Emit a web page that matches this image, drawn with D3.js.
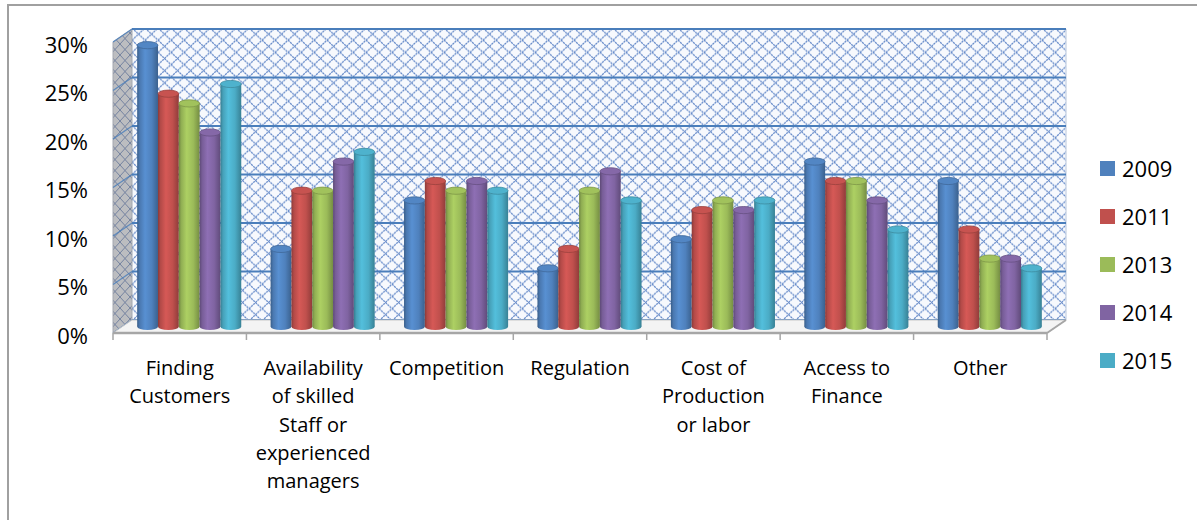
<!DOCTYPE html>
<html>
<head>
<meta charset="utf-8">
<script src="https://cdn.jsdelivr.net/npm/d3@7"></script>
<style>
  html, body { margin: 0; padding: 0; background: #ffffff; }
  svg { display: block; font-family: "Open Sans", "Noto Sans", sans-serif; }
</style>
</head>
<body>
<svg id="chart" width="1197" height="520"></svg>
<script>
// Obstacles reported by businesses, share of respondents per survey year
const categories = [
  "Finding\nCustomers",
  "Availability\nof skilled\nStaff or\nexperienced\nmanagers",
  "Competition",
  "Regulation",
  "Cost of\nProduction\nor labor",
  "Access to\nFinance",
  "Other"
];
const seriesNames = ["2009", "2011", "2013", "2014", "2015"];
const seriesColors = ["#4f81bd", "#c0504d", "#9bbb59", "#8064a2", "#4bacc6"];
const values2009 = [0.29, 0.08, 0.13, 0.06, 0.09, 0.17, 0.15];
const values2011 = [0.24, 0.14, 0.15, 0.08, 0.12, 0.15, 0.10];
const values2013 = [0.23, 0.14, 0.14, 0.14, 0.13, 0.15, 0.07];
const values2014 = [0.20, 0.17, 0.15, 0.16, 0.12, 0.13, 0.07];
const values2015 = [0.25, 0.18, 0.14, 0.13, 0.13, 0.10, 0.06];
const yTicks = [0, 0.05, 0.10, 0.15, 0.20, 0.25, 0.30];

const seriesValues = [values2009, values2011, values2013, values2014, values2015];

const svg = d3.select("#chart");
const defs = svg.append("defs");

// plot geometry: front floor edge, and depth offset to the back wall
const frontLeft = 113, frontRight = 1047;
const depthX = 19, depthY = -13;
const midX = depthX / 2, midY = depthY / 2;

const y = d3.scaleLinear().domain([0, 0.30]).range([333, 42]);
const x = d3.scaleBand().domain(categories).range([frontLeft, frontRight])
  .paddingInner(0.22).paddingOuter(0.11);
const xSeries = d3.scaleBand().domain(seriesNames).range([0, x.bandwidth()]).padding(0);
const xEdge = d3.scaleLinear().domain([0, categories.length]).range([frontLeft, frontRight]);

// outer chart-area frame
svg.append("rect")
  .attr("x", 8).attr("y", 5).attr("width", 1300).attr("height", 700)
  .attr("fill", "none").attr("stroke", "#a0a0a0").attr("stroke-width", 2);

// hatch patterns for the walls
const backHatch = defs.append("pattern")
  .attr("id", "backHatch").attr("patternUnits", "userSpaceOnUse")
  .attr("width", 13).attr("height", 12.2).attr("x", 132).attr("y", 28);
backHatch.append("rect").attr("width", 13).attr("height", 12.2).attr("fill", "#f7f9fd");
backHatch.append("path").attr("d", "M0,0L13,12.2M0,12.2L13,0")
  .attr("stroke", "#6a8ecb").attr("stroke-width", 1.3).attr("stroke-dasharray", "2.2,0.7");

const sideHatch = defs.append("pattern")
  .attr("id", "sideHatch").attr("patternUnits", "userSpaceOnUse")
  .attr("width", 10).attr("height", 11);
sideHatch.append("rect").attr("width", 10).attr("height", 11).attr("fill", "#bcbdc0");
sideHatch.append("path").attr("d", "M0,0L10,11M0,11L10,0")
  .attr("stroke", "#7583a0").attr("stroke-width", 1);

// back wall
const backY = v => y(v) + depthY;
const backL = frontLeft + depthX, backR = frontRight + depthX;
svg.append("rect")
  .attr("x", backL).attr("y", backY(0.30))
  .attr("width", backR - backL).attr("height", backY(0) - backY(0.30))
  .attr("fill", "url(#backHatch)");
svg.append("line")
  .attr("x1", backR).attr("x2", backR).attr("y1", backY(0.30)).attr("y2", backY(0))
  .attr("stroke", "#b8c6dc").attr("stroke-width", 1);

// side wall
svg.append("path")
  .attr("d", `M${frontLeft},${y(0.30)}L${backL},${backY(0.30)}L${backL},${backY(0)}L${frontLeft},${y(0)}Z`)
  .attr("fill", "url(#sideHatch)").attr("stroke", "#a4a8b0").attr("stroke-width", 1);

// gridlines on back and side walls
yTicks.forEach(t => {
  svg.append("line")
    .attr("x1", backL).attr("x2", backR).attr("y1", backY(t)).attr("y2", backY(t))
    .attr("stroke", "#4a7ebb").attr("stroke-width", 1.8);
  svg.append("line")
    .attr("x1", frontLeft).attr("x2", backL).attr("y1", y(t)).attr("y2", backY(t))
    .attr("stroke", "#4a7ebb").attr("stroke-width", 1.4).attr("opacity", 0.8);
});

// floor
svg.append("path")
  .attr("d", `M${frontLeft},${y(0)}L${backL},${backY(0)}L${backR},${backY(0)}L${frontRight},${y(0)}Z`)
  .attr("fill", "#f4f4f4").attr("stroke", "#c8c8c8").attr("stroke-width", 1);
svg.append("line")
  .attr("x1", frontLeft).attr("x2", frontRight).attr("y1", y(0)).attr("y2", y(0))
  .attr("stroke", "#a6a6a6").attr("stroke-width", 2.5);
svg.append("line")
  .attr("x1", frontRight).attr("x2", backR).attr("y1", y(0)).attr("y2", backY(0))
  .attr("stroke", "#a6a6a6").attr("stroke-width", 2);

// category boundary ticks
svg.append("g").selectAll("line")
  .data(d3.range(categories.length + 1))
  .join("line")
  .attr("x1", d => xEdge(d)).attr("x2", d => xEdge(d))
  .attr("y1", y(0)).attr("y2", y(0) + 7)
  .attr("stroke", "#a6a6a6").attr("stroke-width", 1.5);

// cylinder gradients
seriesColors.forEach((c, i) => {
  const base = d3.color(c);
  const g = defs.append("linearGradient").attr("id", "cyl" + i)
    .attr("x1", "0%").attr("x2", "100%").attr("y1", "0%").attr("y2", "0%");
  g.append("stop").attr("offset", "0%").attr("stop-color", base.darker(0.9));
  g.append("stop").attr("offset", "12%").attr("stop-color", base.darker(0.2));
  g.append("stop").attr("offset", "38%").attr("stop-color", base.brighter(0.3));
  g.append("stop").attr("offset", "70%").attr("stop-color", base);
  g.append("stop").attr("offset", "100%").attr("stop-color", base.darker(0.8));
});

// cylinders
const ry = 3.6;
const barData = [];
categories.forEach((cat, ci) => {
  seriesNames.forEach((s, si) => {
    barData.push({ cat, s, si, v: seriesValues[si][ci] });
  });
});
const bars = svg.append("g").selectAll("g").data(barData).join("g")
  .attr("transform", d => `translate(${x(d.cat) + xSeries(d.s) + midX},${midY})`);
const bw = xSeries.bandwidth();
bars.append("ellipse")
  .attr("cx", bw / 2).attr("cy", y(0)).attr("rx", bw / 2).attr("ry", ry)
  .attr("fill", d => `url(#cyl${d.si})`);
bars.append("rect")
  .attr("x", 0).attr("width", bw)
  .attr("y", d => y(d.v)).attr("height", d => y(0) - y(d.v))
  .attr("fill", d => `url(#cyl${d.si})`);
bars.append("ellipse")
  .attr("cx", bw / 2).attr("cy", d => y(d.v)).attr("rx", bw / 2).attr("ry", ry)
  .attr("fill", d => d3.color(seriesColors[d.si]).brighter(0.1))
  .attr("stroke", d => d3.color(seriesColors[d.si]).darker(0.6)).attr("stroke-width", 0.8);

// value axis labels
const yAxis = d3.axisLeft(y).tickValues(yTicks).tickFormat(d3.format(".0%"))
  .tickSize(0).tickPadding(0);
const yg = svg.append("g").attr("transform", "translate(88,3)").call(yAxis);
yg.select(".domain").remove();
yg.selectAll("text").attr("font-size", 22).attr("fill", "#000")
  .attr("font-family", "'Open Sans', 'Noto Sans', sans-serif");

// category labels
const labels = svg.append("g").selectAll("text").data(categories).join("text")
  .attr("x", d => x(d) + x.bandwidth() / 2)
  .attr("y", 375)
  .attr("text-anchor", "middle")
  .attr("font-size", 20).attr("fill", "#000");
labels.each(function (d) {
  const t = d3.select(this);
  d.split("\n").forEach((line, i) => {
    t.append("tspan").attr("x", x(d) + x.bandwidth() / 2)
      .attr("dy", i === 0 ? 0 : 28.3).text(line);
  });
});

// legend
const legend = svg.append("g").selectAll("g").data(seriesNames).join("g")
  .attr("transform", (d, i) => `translate(1100,${169 + i * 48})`);
legend.append("rect")
  .attr("x", 0).attr("y", -8).attr("width", 15).attr("height", 15)
  .attr("fill", (d, i) => seriesColors[i]);
legend.append("text")
  .attr("x", 22).attr("y", 8)
  .attr("font-size", 22).attr("fill", "#000")
  .text(d => d);
</script>
</body>
</html>
